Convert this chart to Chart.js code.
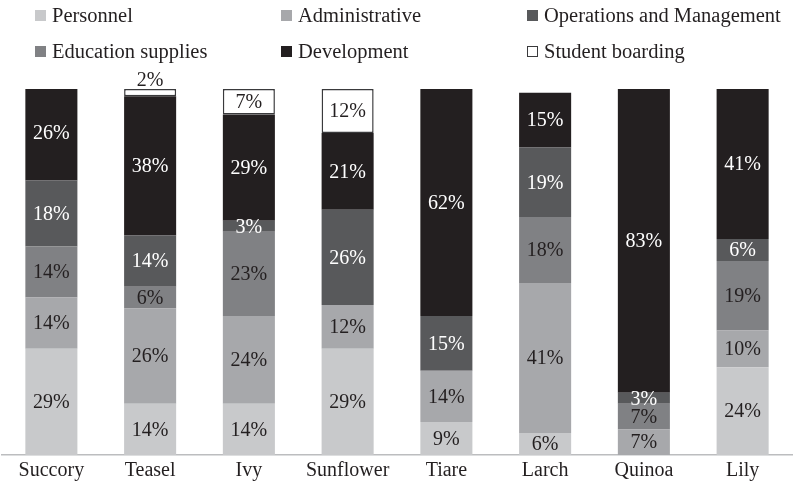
<!DOCTYPE html>
<html>
<head>
<meta charset="utf-8">
<script src="https://cdn.jsdelivr.net/npm/chart.js@4"></script>
<style>
  html, body { margin: 0; padding: 0; background: #fff; }
  #wrap { position: relative; width: 795px; height: 492px; font-family: "Liberation Serif", "DejaVu Serif", serif; }
  #chart { position: absolute; left: 0; top: 0; }
  .leg { position: absolute; font-size: 20.5px; color: #231f20; white-space: nowrap; line-height: 24px; }
  .leg i { display: inline-block; width: 11px; height: 11px; margin-right: 6px; box-sizing: border-box; vertical-align: 1px; }
</style>
</head>
<body>
<div id="wrap">
  <canvas id="chart" width="795" height="492"></canvas>
</div>
<script>
// --- Data (percent of each school's budget) ---
const schools = ['Succory', 'Teasel', 'Ivy', 'Sunflower', 'Tiare', 'Larch', 'Quinoa', 'Lily'];
const personnel      = [29, 14, 14, 29, 9, 6, null, 24];
const administrative = [14, 26, 24, 12, 14, 41, 7, 10];
const eduSupplies    = [14, 6, 23, null, null, 18, 7, 19];
const operations     = [18, 14, 3, 26, 15, 19, 3, 6];
const development    = [26, 38, 29, 21, 62, 15, 83, 41];
const boarding       = [null, 2, 7, 12, null, null, null, null];

// bottom to top
const series = [
    { label: 'Personnel', data: personnel, color: '#c8c9cb', text: '#231f20' },
    { label: 'Administrative', data: administrative, color: '#a7a8ab', text: '#231f20' },
    { label: 'Education supplies', data: eduSupplies, color: '#808184', text: '#231f20' },
    { label: 'Operations and Management', data: operations, color: '#58595b', text: '#ffffff' },
    { label: 'Development', data: development, color: '#231f20', text: '#ffffff' },
    { label: 'Student boarding', data: boarding, color: '#ffffff', text: '#231f20', border: '#3a3a3c' }
];

// --- Legend (HTML, 3 columns x 2 rows) ---
const legendOrder = ['Personnel', 'Administrative', 'Operations and Management',
                     'Education supplies', 'Development', 'Student boarding'];
const legendCols = [35, 281, 527];
const legendRows = [3, 39];
const wrap = document.getElementById('wrap');
legendOrder.forEach((name, i) => {
    const s = series.find(d => d.label === name);
    const el = document.createElement('div');
    el.className = 'leg';
    el.style.left = legendCols[i % 3] + 'px';
    el.style.top = legendRows[Math.floor(i / 3)] + 'px';
    const box = document.createElement('i');
    box.style.background = s.color;
    if (s.border) box.style.border = '1px solid ' + s.border;
    el.appendChild(box);
    el.appendChild(document.createTextNode(name));
    wrap.appendChild(el);
});

// --- Segment labels ---
const segmentLabels = {
    id: 'segmentLabels',
    afterDatasetsDraw(chart) {
        const ctx = chart.ctx;
        ctx.save();
        ctx.font = '20px "Liberation Serif", serif';
        ctx.textAlign = 'center';
        ctx.textBaseline = 'middle';
        chart.data.datasets.forEach((ds, di) => {
            const meta = chart.getDatasetMeta(di);
            meta.data.forEach((bar, i) => {
                const v = ds.data[i];
                if (!v) return;
                const h = bar.base - bar.y;
                if (h < 10) {
                    ctx.fillStyle = '#231f20';
                    ctx.fillText(v + '%', bar.x, bar.y - 8);
                } else {
                    ctx.fillStyle = series[di].text;
                    ctx.fillText(v + '%', bar.x, (bar.y + bar.base) / 2 + 1);
                }
            });
        });
        ctx.restore();
    }
};

new Chart(document.getElementById('chart'), {
    type: 'bar',
    data: {
        labels: schools,
        datasets: series.map(s => ({
            label: s.label,
            data: s.data,
            backgroundColor: s.color,
            borderColor: s.border || s.color,
            borderWidth: s.border ? 1.5 : 0,
            borderSkipped: false,
            categoryPercentage: 1,
            barPercentage: 0.527
        }))
    },
    options: {
        responsive: false,
        animation: false,
        layout: { padding: { top: 89, left: 2, right: 3, bottom: 5 } },
        plugins: { legend: { display: false }, tooltip: { enabled: false } },
        scales: {
            x: {
                stacked: true,
                grid: { display: false, drawTicks: false },
                border: { display: true, color: '#bcbdbf', width: 1.5 },
                ticks: { color: '#231f20', padding: 4, font: { family: '"Liberation Serif", serif', size: 20 } }
            },
            y: {
                stacked: true,
                display: false,
                min: 0,
                max: 100
            }
        }
    },
    plugins: [segmentLabels]
});
</script>
</body>
</html>
